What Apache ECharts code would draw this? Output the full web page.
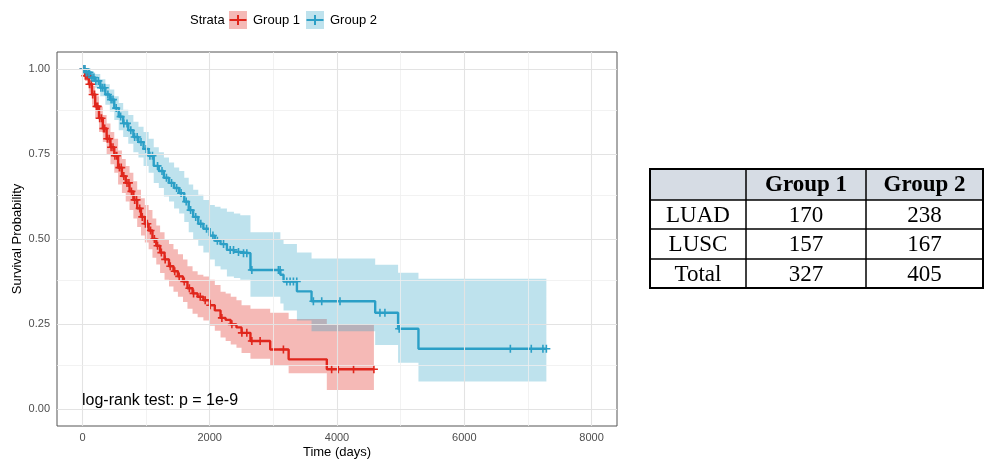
<!DOCTYPE html>
<html><head><meta charset="utf-8">
<script src="https://cdn.jsdelivr.net/npm/echarts@6/dist/echarts.min.js"></script>
<style>html,body{margin:0;padding:0;background:#fff}#c{width:986px;height:462px}</style>
</head><body><div id="c"></div>
<script>
// ---------- axis ticks / grid ----------
const xTickLabels = [0, 2000, 4000, 6000, 8000];
const xGridMinor = [1000, 3000, 5000, 7000];
const yTickLabels = [0, 0.25, 0.5, 0.75, 1];
const yGridMinor = [0.125, 0.375, 0.625, 0.875];
const groupNames = ['Group 1', 'Group 2'];
const legendTitle = 'Strata';
const pText = 'log-rank test: p = 1e-9';

// ---------- Group 1 ----------
const g1Time  = [0,40,100,150,200,260,320,380,440,500,560,620,680,740,800,860,920,980,1040,1100,1160,1220,1290,1360,1430,1500,1580,1650,1730,1810,1900,2000,2080,2170,2250,2330,2420,2500,2640,2950,3240,3840];
const g1Surv  = [1.0,0.98,0.955,0.925,0.89,0.855,0.825,0.795,0.77,0.745,0.71,0.685,0.665,0.64,0.615,0.59,0.565,0.545,0.525,0.50,0.48,0.46,0.44,0.42,0.405,0.39,0.375,0.355,0.34,0.33,0.32,0.305,0.29,0.268,0.262,0.249,0.24,0.224,0.20,0.175,0.146,0.117];
const g1Lower = [1.0,0.965,0.93,0.895,0.855,0.815,0.785,0.75,0.72,0.695,0.66,0.635,0.61,0.585,0.56,0.535,0.51,0.49,0.47,0.445,0.425,0.40,0.38,0.36,0.345,0.33,0.315,0.295,0.28,0.27,0.26,0.245,0.23,0.21,0.20,0.19,0.18,0.165,0.148,0.128,0.105,0.056];
const g1Upper = [1.0,0.995,0.975,0.95,0.92,0.89,0.865,0.84,0.815,0.795,0.76,0.735,0.715,0.695,0.67,0.645,0.62,0.60,0.585,0.56,0.54,0.52,0.50,0.485,0.47,0.455,0.44,0.42,0.405,0.395,0.39,0.38,0.365,0.345,0.34,0.33,0.32,0.305,0.295,0.283,0.265,0.248];
const g1End = 4580;
const g1Censor = [20,45,70,90,110,140,160,190,220,240,270,300,330,350,390,420,450,480,510,540,580,610,650,700,730,770,820,850,900,940,990,1020,1070,1130,1180,1240,1300,1380,1450,1520,1600,1680,1746,1851,1929,2008,2191,2348,2505,2583,2662,2792,3158,3916,4020,4260,4580];

// ---------- Group 2 ----------
const g2Time  = [0,50,120,200,280,360,430,500,570,640,720,800,880,960,1040,1120,1200,1280,1360,1440,1520,1600,1670,1740,1820,1900,2000,2080,2170,2270,2380,2480,2640,3110,3160,3370,3600,4600,4960,5280];
const g2Surv  = [1.0,0.99,0.975,0.965,0.945,0.925,0.91,0.885,0.86,0.84,0.82,0.80,0.785,0.765,0.745,0.715,0.70,0.68,0.665,0.65,0.635,0.61,0.585,0.565,0.545,0.53,0.51,0.495,0.485,0.468,0.462,0.458,0.409,0.395,0.375,0.346,0.317,0.283,0.236,0.177];
const g2Lower = [1.0,0.98,0.96,0.945,0.92,0.895,0.875,0.85,0.82,0.80,0.78,0.755,0.74,0.715,0.695,0.665,0.65,0.625,0.61,0.59,0.575,0.55,0.52,0.50,0.48,0.46,0.44,0.42,0.41,0.39,0.385,0.38,0.33,0.31,0.29,0.26,0.229,0.188,0.136,0.081];
const g2Upper = [1.0,1.0,0.99,0.985,0.97,0.955,0.94,0.92,0.90,0.88,0.865,0.845,0.83,0.815,0.795,0.77,0.755,0.74,0.725,0.71,0.70,0.68,0.66,0.645,0.63,0.615,0.60,0.595,0.59,0.58,0.575,0.57,0.52,0.50,0.485,0.46,0.443,0.424,0.401,0.383];
const g2End = 7290;
const g2Censor = [15,40,60,90,110,150,180,210,250,290,320,350,400,450,480,530,600,650,700,760,820,860,920,1000,1060,1100,1180,1250,1320,1400,1480,1550,1630,1700,1780,1860,1950,2050,2120,2217,2322,2374,2452,2531,2583,2662,3079,3106,3211,3263,3315,3368,3629,3760,4047,4675,4753,4977,6724,7053,7236,7290];

// ---------- table ----------
const tableHeader = ['', 'Group 1', 'Group 2'];
const tableRowNames = ['LUAD', 'LUSC', 'Total'];
const tableG1 = [170, 157, 327];
const tableG2 = [238, 167, 405];

// ---------- styles ----------
const RED = '#E0261C', BLUE = '#2B9FC6';
const RED_FILL = 'rgba(222,22,12,0.3)', BLUE_FILL = 'rgba(40,160,196,0.3)';
const SANS = 'Liberation Sans, Arial, sans-serif';
const SERIF = 'Liberation Serif, Times New Roman, serif';
const CROSS = 'path://M-1.2,-6L1.2,-6L1.2,-1.2L6,-1.2L6,1.2L1.2,1.2L1.2,6L-1.2,6L-1.2,1.2L-6,1.2L-6,-1.2L-1.2,-1.2Z';

function stepAt(times, surv, t) {
  let v = surv[0];
  for (let i = 0; i < times.length; i++) { if (times[i] <= t) v = surv[i]; }
  return v;
}
function lineData(times, surv, end) {
  const d = times.map((t, i) => [t, surv[i]]);
  d.push([end, surv[surv.length - 1]]);
  return d;
}
function bandSeries(name, times, lo, hi, end, fill, z) {
  return {
    type: 'custom', name: name + ' band', silent: true, z: z, animation: false,
    data: [[0, 0]],
    renderItem: function (params, api) {
      const pts = [];
      for (let i = 0; i < times.length; i++) {
        const t1 = i + 1 < times.length ? times[i + 1] : end;
        pts.push(api.coord([times[i], hi[i]]));
        pts.push(api.coord([t1, hi[i]]));
      }
      for (let i = times.length - 1; i >= 0; i--) {
        const t1 = i + 1 < times.length ? times[i + 1] : end;
        pts.push(api.coord([t1, lo[i]]));
        pts.push(api.coord([times[i], lo[i]]));
      }
      return { type: 'polygon', shape: { points: pts }, style: { fill: fill } };
    }
  };
}

const gridLines = [];
xTickLabels.forEach(v => gridLines.push({ xAxis: v, lineStyle: { color: '#E3E3E3', width: 1.1, type: 'solid' } }));
xGridMinor.forEach(v => gridLines.push({ xAxis: v, lineStyle: { color: '#EFEFEF', width: 0.8, type: 'solid' } }));
yTickLabels.forEach(v => gridLines.push({ yAxis: v, lineStyle: { color: '#E3E3E3', width: 1.1, type: 'solid' } }));
yGridMinor.forEach(v => gridLines.push({ yAxis: v, lineStyle: { color: '#EFEFEF', width: 0.8, type: 'solid' } }));

// table graphics
const colX = [650, 746, 866, 983];
const rowY = [169, 200, 229, 259, 288];
const tableEls = [];
tableEls.push({ type: 'rect', shape: { x: colX[0], y: rowY[0], width: colX[3] - colX[0], height: rowY[1] - rowY[0] }, style: { fill: '#D6DCE4' } });
for (let r = 1; r < rowY.length - 1; r++) {
  tableEls.push({ type: 'line', shape: { x1: colX[0], y1: rowY[r], x2: colX[3], y2: rowY[r] }, style: { stroke: '#000', lineWidth: 1.5 } });
}
for (let c = 1; c < colX.length - 1; c++) {
  tableEls.push({ type: 'line', shape: { x1: colX[c], y1: rowY[0], x2: colX[c], y2: rowY[4] }, style: { stroke: '#000', lineWidth: 1.5 } });
}
tableEls.push({ type: 'rect', shape: { x: colX[0], y: rowY[0], width: colX[3] - colX[0], height: rowY[4] - rowY[0] }, style: { fill: 'none', stroke: '#000', lineWidth: 2 } });
for (let c = 0; c < 3; c++) {
  if (!tableHeader[c]) continue;
  tableEls.push({ type: 'text', x: (colX[c] + colX[c + 1]) / 2, y: (rowY[0] + rowY[1]) / 2 + 1,
    style: { text: tableHeader[c], font: 'bold 23px ' + SERIF, fill: '#000', align: 'center', verticalAlign: 'middle' } });
}
for (let r = 0; r < tableRowNames.length; r++) {
  const cy = (rowY[r + 1] + rowY[r + 2]) / 2 + 1;
  const cells = [tableRowNames[r], String(tableG1[r]), String(tableG2[r])];
  for (let c = 0; c < 3; c++) {
    tableEls.push({ type: 'text', x: (colX[c] + colX[c + 1]) / 2, y: cy,
      style: { text: cells[c], font: '23px ' + SERIF, fill: '#000', align: 'center', verticalAlign: 'middle' } });
  }
}

// legend graphics
const legendEls = [
  { type: 'text', x: 190, y: 20, style: { text: legendTitle, font: '13px ' + SANS, fill: '#000', verticalAlign: 'middle' } },
  { type: 'rect', shape: { x: 229, y: 11, width: 18, height: 18 }, style: { fill: RED_FILL } },
  { type: 'line', shape: { x1: 229.5, y1: 20, x2: 246.5, y2: 20 }, style: { stroke: RED, lineWidth: 2 } },
  { type: 'line', shape: { x1: 238, y1: 15, x2: 238, y2: 25 }, style: { stroke: RED, lineWidth: 2 } },
  { type: 'text', x: 253, y: 20, style: { text: groupNames[0], font: '13px ' + SANS, fill: '#000', verticalAlign: 'middle' } },
  { type: 'rect', shape: { x: 306, y: 11, width: 18, height: 18 }, style: { fill: BLUE_FILL } },
  { type: 'line', shape: { x1: 306.5, y1: 20, x2: 323.5, y2: 20 }, style: { stroke: BLUE, lineWidth: 2 } },
  { type: 'line', shape: { x1: 315, y1: 15, x2: 315, y2: 25 }, style: { stroke: BLUE, lineWidth: 2 } },
  { type: 'text', x: 330, y: 20, style: { text: groupNames[1], font: '13px ' + SANS, fill: '#000', verticalAlign: 'middle' } },
  { type: 'text', x: 82, y: 401, style: { text: pText, font: '16px ' + SANS, fill: '#000', verticalAlign: 'middle' } }
].map(e => Object.assign({ z: 100 }, e));

const chart = echarts.init(document.getElementById('c'), null, { renderer: 'canvas' });
chart.setOption({
  animation: false,
  backgroundColor: '#fff',
  grid: { left: 57, right: 369, top: 52, bottom: 36, show: true, borderColor: '#555', borderWidth: 1, backgroundColor: '#fff',
    containLabel: false, outerBoundsMode: 'none' },
  xAxis: {
    type: 'value', min: -400, max: 8400,
    name: 'Time (days)', nameLocation: 'middle', nameGap: 20, nameMoveOverlap: false,
    nameTextStyle: { color: '#000', fontSize: 13, fontFamily: SANS },
    axisLine: { show: false },
    axisTick: { show: true, customValues: xTickLabels, length: 4, lineStyle: { color: '#333', width: 1 } },
    axisLabel: { customValues: xTickLabels, color: '#4D4D4D', fontSize: 11, fontFamily: SANS, margin: 6,
      formatter: v => String(Math.round(v)) },
    splitLine: { show: false }
  },
  yAxis: {
    type: 'value', min: -0.05, max: 1.05,
    name: 'Survival Probability', nameLocation: 'middle', nameGap: 33, nameMoveOverlap: false,
    nameTextStyle: { color: '#000', fontSize: 13, fontFamily: SANS },
    axisLine: { show: false },
    axisTick: { show: true, customValues: yTickLabels, length: 4, lineStyle: { color: '#333', width: 1 } },
    axisLabel: { customValues: yTickLabels, color: '#4D4D4D', fontSize: 11, fontFamily: SANS, margin: 7,
      formatter: v => Number(v).toFixed(2) },
    splitLine: { show: false }
  },
  graphic: legendEls.concat(tableEls),
  series: [
    { type: 'line', name: 'grid', data: [], z: 1, silent: true,
      markLine: { silent: true, symbol: ['none', 'none'], label: { show: false }, animation: false, data: gridLines } },
    bandSeries(groupNames[0], g1Time, g1Lower, g1Upper, g1End, RED_FILL, 2),
    bandSeries(groupNames[1], g2Time, g2Lower, g2Upper, g2End, BLUE_FILL, 2),
    { type: 'line', name: groupNames[0], step: 'end', showSymbol: false, z: 3, silent: true,
      data: lineData(g1Time, g1Surv, g1End), lineStyle: { color: RED, width: 2.4 } },
    { type: 'line', name: groupNames[1], step: 'end', showSymbol: false, z: 3, silent: true,
      data: lineData(g2Time, g2Surv, g2End), lineStyle: { color: BLUE, width: 2.4 } },
    { type: 'scatter', name: groupNames[0] + ' censor', z: 4, silent: true, symbol: CROSS, symbolSize: 8,
      itemStyle: { color: RED, opacity: 1 }, data: g1Censor.map(t => [t, stepAt(g1Time, g1Surv, t)]) },
    { type: 'scatter', name: groupNames[1] + ' censor', z: 4, silent: true, symbol: CROSS, symbolSize: 8,
      itemStyle: { color: BLUE, opacity: 1 }, data: g2Censor.map(t => [t, stepAt(g2Time, g2Surv, t)]) }
  ]
});
</script>
</body></html>
